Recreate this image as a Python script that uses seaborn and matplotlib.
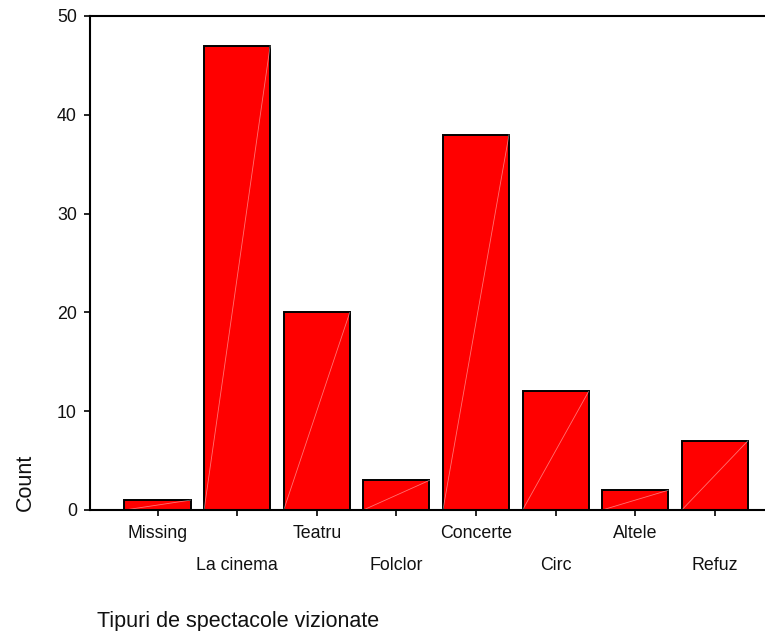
import matplotlib
matplotlib.use("Agg")
import matplotlib.pyplot as plt
import seaborn as sns
import pandas as pd

categories = ["Missing", "La cinema", "Teatru", "Folclor", "Concerte", "Circ", "Altele", "Refuz"]
counts = [1, 47, 20, 3, 38, 12, 2, 7]
yticks = [0, 10, 20, 30, 40, 50]
xlabel = "Tipuri de spectacole vizionate"
ylabel = "Count"

sns.set_theme(style="white")
plt.rcParams["font.family"] = ["Liberation Sans", "DejaVu Sans"]

df = pd.DataFrame({"cat": categories, "count": counts})

fig = plt.figure(figsize=(7.65, 6.31), dpi=100)
ax = fig.add_axes([90 / 765, 121 / 631, 675 / 765, 494 / 631])

sns.barplot(data=df, x="cat", y="count", order=categories, color="#ff0000",
            saturation=1, edgecolor="black", linewidth=1.4, width=0.83, ax=ax)

# faint diagonal highlight inside each bar
for p in ax.patches:
    x0 = p.get_x()
    w = p.get_width()
    h = p.get_height()
    ax.plot([x0, x0 + w], [0, h], color="white", lw=0.6, alpha=0.45, zorder=p.get_zorder() + 0.1)

ax.set_xlim(-0.848, 7.63)
ax.set_ylim(0, 50)
ax.set_yticks(yticks)
ax.set_yticklabels([str(v) for v in yticks])

for side in ["left", "top", "bottom"]:
    ax.spines[side].set_visible(True)
    ax.spines[side].set_color("black")
    ax.spines[side].set_linewidth(1.5)
ax.spines["right"].set_visible(False)

ax.tick_params(axis="both", which="major", direction="out", length=4.5, width=1.2,
               color="black", labelsize=12.8, labelcolor="#111111")
ax.tick_params(axis="x", pad=6)
ax.tick_params(axis="y", pad=5, left=True)
ax.tick_params(axis="x", bottom=True)

for i, t in enumerate(ax.xaxis.get_major_ticks()):
    if i % 2 == 1:
        t.set_pad(6 + 23)

ax.set_xlabel(xlabel, fontsize=15.5, color="#111111")
ax.set_ylabel(ylabel, fontsize=15.5, color="#111111")
ax.xaxis.set_label_coords(7 / 675, (510 - 621) / 494)
ax.xaxis.label.set_ha("left")
ax.xaxis.label.set_va("center")
ax.yaxis.set_label_coords((25 - 90) / 675, (510 - 482) / 494)
ax.yaxis.label.set_va("center")
ax.yaxis.label.set_ha("center")

ax.grid(False)
fig.savefig("out.png", dpi=100)
